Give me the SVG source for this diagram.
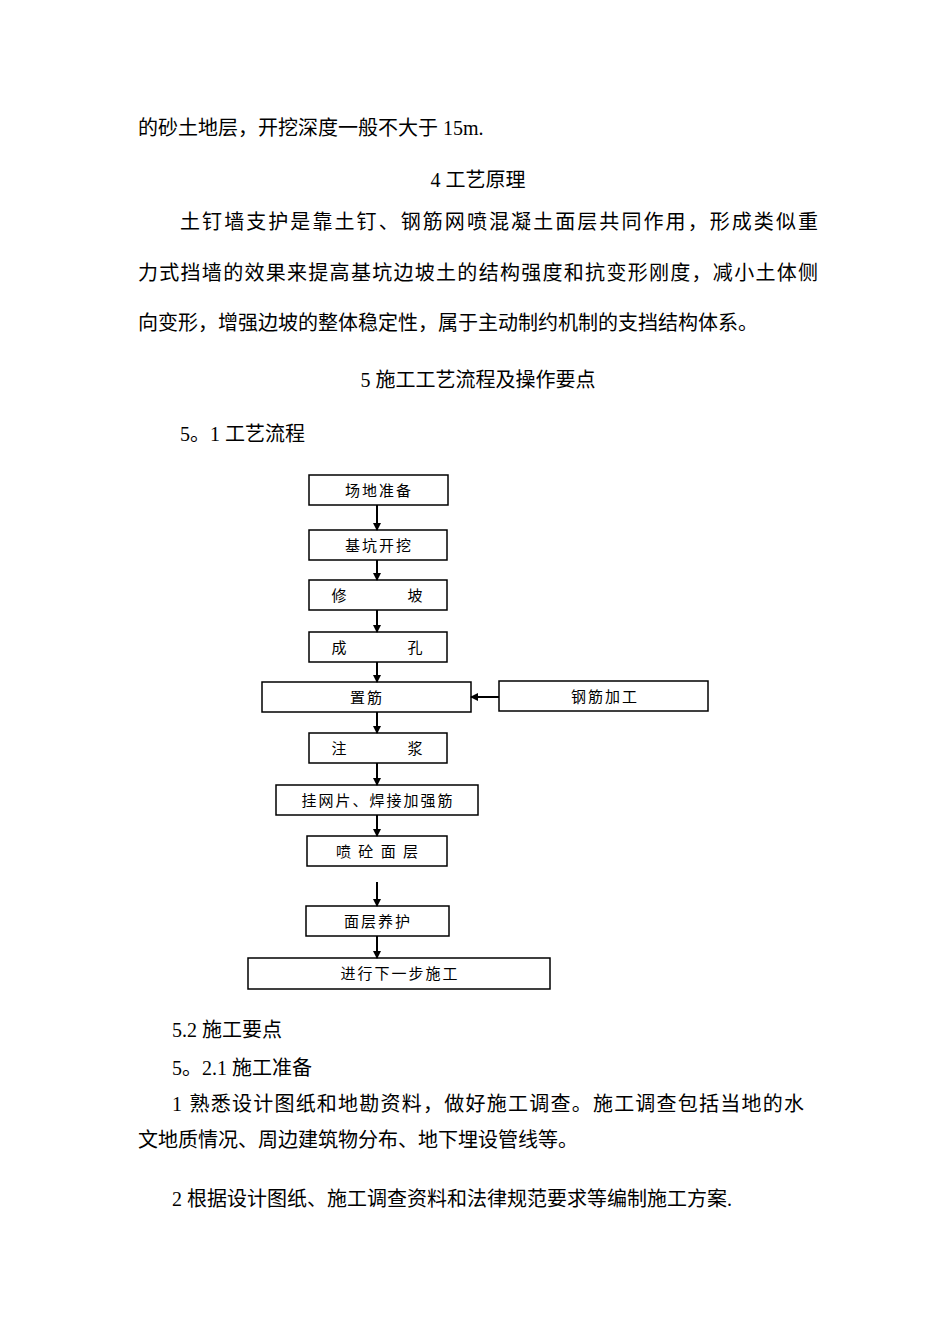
<svg xmlns="http://www.w3.org/2000/svg" width="950" height="1344" viewBox="0 0 950 1344">
<style>
.t{font-family:"Liberation Serif","Noto Sans CJK SC",serif;font-size:20px;fill:#000}
.b{fill:#fff;stroke:#000;stroke-width:1.5}
.l{font-family:"Noto Sans CJK SC",sans-serif;font-size:15px;fill:#000;text-anchor:middle;letter-spacing:2px}
.c{stroke:#000;stroke-width:2;fill:none}
</style>
<defs><marker id="a" markerWidth="8" markerHeight="8" refX="7" refY="4" orient="auto" markerUnits="userSpaceOnUse"><path d="M0,0L8,4L0,8z" fill="#000"/></marker></defs>
<rect width="950" height="1344" fill="#fff"/>
<text class="t" x="138" y="135">的砂土地层，开挖深度一般不大于 15m.</text>
<text class="t" x="478" y="187" text-anchor="middle">4 工艺原理</text>
<text class="t" x="180" y="229" textLength="638">土钉墙支护是靠土钉、钢筋网喷混凝土面层共同作用，形成类似重</text>
<text class="t" x="138" y="280" textLength="680">力式挡墙的效果来提高基坑边坡土的结构强度和抗变形刚度，减小土体侧</text>
<text class="t" x="138" y="330">向变形，增强边坡的整体稳定性，属于主动制约机制的支挡结构体系。</text>
<text class="t" x="478" y="387" text-anchor="middle">5 施工工艺流程及操作要点</text>
<text class="t" x="180" y="441">5。1 工艺流程</text>
<g id="n1"><rect class="b" x="309" y="475" width="139" height="30" stroke-width="2.5"/><text class="l" x="379" y="496">场地准备</text></g>
<g id="n2"><rect class="b" x="309" y="530" width="138" height="30"/><text class="l" x="379" y="551">基坑开挖</text></g>
<g id="n3"><rect class="b" x="309" y="580" width="138" height="30"/><text class="l" x="340" y="601">修</text><text class="l" x="416" y="601">坡</text></g>
<g id="n4"><rect class="b" x="309" y="632" width="138" height="30"/><text class="l" x="340" y="653">成</text><text class="l" x="416" y="653">孔</text></g>
<g id="n5"><rect class="b" x="262" y="682" width="209" height="30"/><text class="l" x="367" y="703">置筋</text></g>
<g id="n6"><rect class="b" x="499" y="681" width="209" height="30"/><text class="l" x="605" y="702">钢筋加工</text></g>
<g id="n7"><rect class="b" x="309" y="733" width="138" height="30"/><text class="l" x="340" y="754">注</text><text class="l" x="416" y="754">浆</text></g>
<g id="n8"><rect class="b" x="276" y="785" width="202" height="30"/><text class="l" x="378" y="806">挂网片、焊接加强筋</text></g>
<g id="n9"><rect class="b" x="307" y="836" width="140" height="30" stroke-width="2.2"/><text class="l" x="378" y="857" xml:space="preserve">喷 砼 面 层</text></g>
<g id="n10"><rect class="b" x="306" y="906" width="143" height="30"/><text class="l" x="378" y="927">面层养护</text></g>
<g id="n11"><rect class="b" x="248" y="958" width="302" height="31"/><text class="l" x="400" y="979">进行下一步施工</text></g>
<g id="connectors">
<line class="c" x1="377" y1="505" x2="377" y2="530" marker-end="url(#a)"/>
<line class="c" x1="377" y1="560" x2="377" y2="580" marker-end="url(#a)"/>
<line class="c" x1="377" y1="610" x2="377" y2="632" marker-end="url(#a)"/>
<line class="c" x1="377" y1="662" x2="377" y2="682" marker-end="url(#a)"/>
<line class="c" x1="377" y1="712" x2="377" y2="733" marker-end="url(#a)"/>
<line class="c" x1="377" y1="763" x2="377" y2="785" marker-end="url(#a)"/>
<line class="c" x1="377" y1="815" x2="377" y2="836" marker-end="url(#a)"/>
<line class="c" x1="377" y1="882" x2="377" y2="906" marker-end="url(#a)"/>
<line class="c" x1="377" y1="936" x2="377" y2="958" marker-end="url(#a)"/>
<line class="c" x1="499" y1="697" x2="471" y2="697" marker-end="url(#a)"/>
</g>
<text class="t" x="172" y="1037">5.2 施工要点</text>
<text class="t" x="172" y="1075">5。2.1 施工准备</text>
<text class="t" x="172" y="1111" textLength="632">1 熟悉设计图纸和地勘资料，做好施工调查。施工调查包括当地的水</text>
<text class="t" x="138" y="1147">文地质情况、周边建筑物分布、地下埋设管线等。</text>
<text class="t" x="172" y="1206">2 根据设计图纸、施工调查资料和法律规范要求等编制施工方案.</text>
</svg>
